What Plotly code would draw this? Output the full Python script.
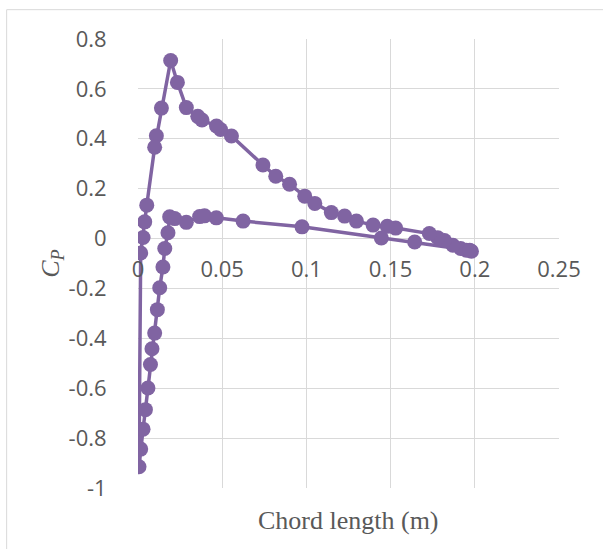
import plotly.graph_objects as go

# Chord position (m) and pressure coefficient, traced around the section
chord_x = [0.198, 0.195, 0.1916, 0.187, 0.182, 0.178, 0.173, 0.153, 0.148, 0.1396,
           0.1297, 0.1227, 0.1148, 0.105, 0.099, 0.090, 0.0818, 0.0742, 0.0555, 0.049,
           0.0466, 0.038, 0.0355, 0.0287, 0.0234, 0.0194,
           0.0139, 0.0109, 0.0099, 0.0052, 0.004, 0.003, 0.0016, 0.0006,
           0.0016, 0.003, 0.0044, 0.0059, 0.0074, 0.0083, 0.0099, 0.0115, 0.0129, 0.0148,
           0.0159, 0.0178, 0.0188, 0.0218, 0.0287, 0.0366, 0.0395, 0.0465, 0.0624, 0.0974,
           0.1445, 0.1643, 0.197]
cp = [-0.051, -0.047, -0.040, -0.027, -0.008, 0.003, 0.020, 0.042, 0.049, 0.054,
      0.070, 0.090, 0.104, 0.141, 0.170, 0.218, 0.250, 0.295, 0.411, 0.437,
      0.451, 0.475, 0.490, 0.525, 0.626, 0.714,
      0.523, 0.412, 0.366, 0.134, 0.067, 0.004, -0.058, -0.915,
      -0.844, -0.764, -0.686, -0.599, -0.505, -0.442, -0.379, -0.285, -0.197, -0.114,
      -0.040, 0.023, 0.087, 0.080, 0.065, 0.088, 0.091, 0.083, 0.070, 0.047,
      0.0025, -0.014, -0.047]

x_tickvals = [0, 0.05, 0.1, 0.15, 0.2, 0.25]
x_ticktext = ["0", "0.05", "0.1", "0.15", "0.2", "0.25"]
y_tickvals = [0.8, 0.6, 0.4, 0.2, 0, -0.2, -0.4, -0.6, -0.8, -1]
y_ticktext = ["0.8", "0.6", "0.4", "0.2", "0", "-0.2", "-0.4", "-0.6", "-0.8", "-1"]

purple = "#8064A2"
grid = "#d9d9d9"
label_col = "#595959"

fig = go.Figure()
fig.add_trace(go.Scatter(
    x=chord_x, y=cp, mode="lines+markers",
    line=dict(color=purple, width=3.5),
    marker=dict(color=purple, size=15, line=dict(width=0)),
    showlegend=False, hoverinfo="skip"))

yr = [-1, 0.8]
fig.update_layout(
    width=603, height=549,
    margin=dict(l=138, r=44, t=39, b=61, pad=0),
    paper_bgcolor="white", plot_bgcolor="white",
    font=dict(family="Open Sans", color=label_col),
    xaxis=dict(range=[0, 0.25], tickvals=x_tickvals, ticktext=x_ticktext,
               showgrid=True, gridcolor=grid, gridwidth=1, zeroline=False,
               showline=False, anchor="free", position=(0 - yr[0]) / (yr[1] - yr[0]),
               ticks="outside", ticklen=11, tickcolor="rgba(0,0,0,0)", automargin=False,
               tickfont=dict(family="Open Sans", size=22, color=label_col)),
    yaxis=dict(range=yr, tickvals=y_tickvals, ticktext=y_ticktext,
               showgrid=True, gridcolor=grid, gridwidth=1, zeroline=False,
               showline=False, domain=[0, 1], automargin=False,
               ticks="outside", ticklen=26, tickcolor="rgba(0,0,0,0)",
               tickfont=dict(family="Open Sans", size=22, color=label_col),
               title=dict(text="<i>C<sub>P</sub></i>", standoff=1,
                          font=dict(family="Liberation Serif", size=26, color=label_col))),
    shapes=[dict(type="rect", xref="paper", yref="paper",
                 x0=-0.312, x1=1.3, y0=-0.3, y1=1.0653,
                 line=dict(color=grid, width=1), fillcolor="rgba(0,0,0,0)", layer="below")],
    annotations=[dict(text="Chord length (m)", xref="paper", yref="paper",
                      x=0.5, y=-0.073, xanchor="center", yanchor="middle", showarrow=False,
                      font=dict(family="Liberation Serif", size=26, color=label_col))],
)

fig.write_html("out.html", config={"displayModeBar": False},
               post_script="document.body.style.margin='0';")
